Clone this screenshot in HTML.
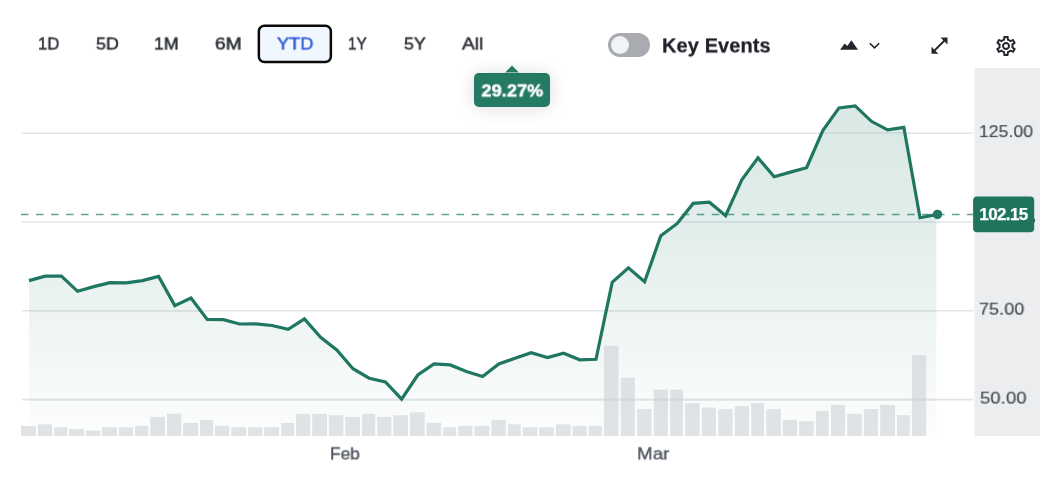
<!DOCTYPE html>
<html><head><meta charset="utf-8"><title>Chart</title>
<style>
html,body{margin:0;padding:0;background:#fff;}
body{width:1054px;height:490px;position:relative;overflow:hidden;font-family:"Liberation Sans",sans-serif;color:#23262d;}
svg{position:absolute;left:0;top:0;}
.rb{position:absolute;top:25.4px;transform-origin:0 50%;height:38px;line-height:38px;font-size:17px;white-space:nowrap;color:#2a2d35;-webkit-text-stroke:0.5px #2a2d35;}
.tog{position:absolute;left:608px;top:33px;width:42px;height:24px;border-radius:12px;background:#a9abb1;}
.tog i{position:absolute;left:3px;top:3px;width:18px;height:18px;border-radius:50%;background:#f0f4f8;}
.ke{position:absolute;left:662px;top:33px;transform:translateY(0.4px) perspective(1000px) rotateX(0.02deg);-webkit-text-stroke:.25px #1f2128;letter-spacing:.1px;line-height:24px;font-size:20px;font-weight:bold;color:#1f2128;white-space:nowrap;}
.tip{position:absolute;left:474px;top:73px;width:76px;height:34px;border-radius:5px;background:#257a64;box-shadow:0 1px 18px rgba(0,0,0,.14);border-top:1px solid #1f7560;box-sizing:border-box;color:#fff;font-weight:bold;font-size:17px;line-height:34.2px;text-align:center;letter-spacing:.2px;-webkit-text-stroke:.5px #fff;}
.yl{position:absolute;left:978.3px;font-size:17px;line-height:20px;color:#454a54;white-space:nowrap;letter-spacing:.1px;transform-origin:0 50%;-webkit-text-stroke:.2px #454a54;}
.xl{position:absolute;top:444px;transform:translateY(0.4px) perspective(1000px) rotateX(0.02deg);font-size:17px;line-height:20px;color:#4a4f5a;white-space:nowrap;-webkit-text-stroke:0.3px #4a4f5a;}
.cur{position:absolute;left:973px;top:196.3px;width:61px;height:36px;color:#fff;font-weight:bold;font-size:17px;line-height:38.2px;text-align:center;letter-spacing:-.6px;-webkit-text-stroke:.25px #fff;}
</style></head><body>
<svg width="1054" height="490" viewBox="0 0 1054 490">
<defs><linearGradient id="g" x1="0" y1="105" x2="0" y2="436" gradientUnits="userSpaceOnUse">
<stop offset="0" stop-color="#1f7a62" stop-opacity=".165"/><stop offset=".37" stop-color="#1f7a62" stop-opacity=".13"/><stop offset="1" stop-color="#1f7a62" stop-opacity=".01"/></linearGradient></defs>
<rect x="974.4" y="68" width="65.5" height="368.1" fill="#ebedef"/>
<g stroke="#e1e3e9" stroke-width="1.6"><line x1="22.2" x2="972.9" y1="133.2" y2="133.2"/><line x1="22.2" x2="972.9" y1="222.0" y2="222.0"/><line x1="22.2" x2="972.9" y1="310.8" y2="310.8"/><line x1="22.2" x2="972.9" y1="399.6" y2="399.6"/></g>
<path d="M29.0,436.1 L29.0,280.6 L45.2,276.2 L61.4,276.2 L77.6,291.3 L93.8,286.6 L110.0,282.6 L126.2,282.8 L142.4,280.6 L158.6,276.4 L174.8,305.6 L191.0,298.1 L207.2,319.4 L223.4,319.7 L239.6,324.0 L255.8,323.8 L272.0,325.5 L288.2,329.3 L304.4,318.9 L320.6,337.3 L336.8,349.9 L353.0,368.7 L369.2,378.2 L385.4,382.0 L401.6,399.1 L417.8,375.0 L434.0,363.9 L450.2,364.9 L466.4,371.5 L482.6,376.5 L498.8,364.0 L515.0,358.3 L531.2,352.8 L547.4,357.6 L563.6,353.3 L579.8,359.8 L596.0,359.3 L612.2,282.3 L628.4,267.9 L644.6,281.8 L660.8,235.8 L677.0,223.7 L693.2,203.4 L709.4,202.2 L725.6,215.7 L741.8,179.8 L758.0,157.9 L774.2,176.8 L790.4,172.1 L806.6,167.7 L822.8,130.6 L839.0,107.9 L855.2,105.9 L871.4,121.3 L887.6,129.8 L903.8,127.3 L920.0,217.7 L936.3,214.6 L936.3,436.1 Z" fill="url(#g)"/>
<clipPath id="c"><path d="M29.0,436.1 L29.0,280.6 L45.2,276.2 L61.4,276.2 L77.6,291.3 L93.8,286.6 L110.0,282.6 L126.2,282.8 L142.4,280.6 L158.6,276.4 L174.8,305.6 L191.0,298.1 L207.2,319.4 L223.4,319.7 L239.6,324.0 L255.8,323.8 L272.0,325.5 L288.2,329.3 L304.4,318.9 L320.6,337.3 L336.8,349.9 L353.0,368.7 L369.2,378.2 L385.4,382.0 L401.6,399.1 L417.8,375.0 L434.0,363.9 L450.2,364.9 L466.4,371.5 L482.6,376.5 L498.8,364.0 L515.0,358.3 L531.2,352.8 L547.4,357.6 L563.6,353.3 L579.8,359.8 L596.0,359.3 L612.2,282.3 L628.4,267.9 L644.6,281.8 L660.8,235.8 L677.0,223.7 L693.2,203.4 L709.4,202.2 L725.6,215.7 L741.8,179.8 L758.0,157.9 L774.2,176.8 L790.4,172.1 L806.6,167.7 L822.8,130.6 L839.0,107.9 L855.2,105.9 L871.4,121.3 L887.6,129.8 L903.8,127.3 L920.0,217.7 L936.3,214.6 L936.3,436.1 Z"/></clipPath>
<g clip-path="url(#c)" stroke-width="1.6"><line x1="22.2" x2="972.9" y1="133.2" y2="133.2" stroke="#ccdcd9"/><line x1="22.2" x2="972.9" y1="222.0" y2="222.0" stroke="#cfdedc"/><line x1="22.2" x2="972.9" y1="310.8" y2="310.8" stroke="#d5e0df"/><line x1="22.2" x2="972.9" y1="399.6" y2="399.6" stroke="#dee3e5"/></g>
<g fill="#c3c9d0" fill-opacity=".5"><rect x="21.0" y="425.9" width="14.9" height="10.2"/><rect x="37.9" y="424.3" width="14.3" height="11.8"/><rect x="54.2" y="427.3" width="13.2" height="8.8"/><rect x="69.2" y="429.1" width="14.9" height="7.0"/><rect x="85.9" y="430.5" width="14.4" height="5.6"/><rect x="102.0" y="427.3" width="15.0" height="8.8"/><rect x="119.0" y="427.3" width="14.1" height="8.8"/><rect x="135.1" y="425.9" width="13.2" height="10.2"/><rect x="150.3" y="416.9" width="14.7" height="19.2"/><rect x="167.0" y="413.7" width="14.3" height="22.4"/><rect x="183.1" y="422.9" width="15.0" height="13.2"/><rect x="200.1" y="419.9" width="13.1" height="16.2"/><rect x="215.0" y="425.9" width="14.3" height="10.2"/><rect x="231.3" y="427.3" width="14.8" height="8.8"/><rect x="248.1" y="427.3" width="14.3" height="8.8"/><rect x="264.2" y="427.3" width="14.9" height="8.8"/><rect x="281.1" y="422.9" width="13.0" height="13.2"/><rect x="296.1" y="413.9" width="14.1" height="22.2"/><rect x="312.2" y="413.9" width="14.8" height="22.2"/><rect x="328.9" y="415.3" width="14.4" height="20.8"/><rect x="345.3" y="416.9" width="14.7" height="19.2"/><rect x="362.0" y="413.9" width="13.2" height="22.2"/><rect x="377.2" y="416.9" width="14.1" height="19.2"/><rect x="393.3" y="415.3" width="14.7" height="20.8"/><rect x="410.0" y="412.3" width="14.7" height="23.8"/><rect x="426.5" y="422.9" width="14.7" height="13.2"/><rect x="443.2" y="427.3" width="13.0" height="8.8"/><rect x="458.2" y="425.9" width="14.3" height="10.2"/><rect x="474.5" y="425.9" width="14.8" height="10.2"/><rect x="491.3" y="419.9" width="14.5" height="16.2"/><rect x="507.8" y="424.3" width="12.9" height="11.8"/><rect x="522.7" y="427.3" width="14.6" height="8.8"/><rect x="539.3" y="427.3" width="14.5" height="8.8"/><rect x="555.8" y="424.3" width="14.8" height="11.8"/><rect x="572.5" y="425.9" width="14.2" height="10.2"/><rect x="588.7" y="425.9" width="13.1" height="10.2"/><rect x="603.9" y="345.8" width="14.6" height="90.3"/><rect x="620.8" y="377.7" width="14.1" height="58.4"/><rect x="637.2" y="409.1" width="14.3" height="27.0"/><rect x="653.8" y="389.6" width="14.1" height="46.5"/><rect x="670.2" y="389.6" width="12.8" height="46.5"/><rect x="685.2" y="403.1" width="14.4" height="33.0"/><rect x="701.9" y="407.6" width="14.1" height="28.5"/><rect x="718.3" y="409.1" width="14.3" height="27.0"/><rect x="734.9" y="406.2" width="14.1" height="29.9"/><rect x="751.3" y="403.1" width="12.8" height="33.0"/><rect x="766.3" y="409.1" width="14.6" height="27.0"/><rect x="782.7" y="419.9" width="14.4" height="16.2"/><rect x="799.1" y="421.2" width="14.6" height="14.9"/><rect x="815.9" y="410.9" width="12.8" height="25.2"/><rect x="831.0" y="404.9" width="14.1" height="31.2"/><rect x="847.2" y="413.8" width="14.6" height="22.3"/><rect x="863.8" y="409.1" width="14.1" height="27.0"/><rect x="880.2" y="404.9" width="14.8" height="31.2"/><rect x="897.0" y="415.2" width="12.8" height="20.9"/><rect x="911.9" y="355.2" width="14.3" height="80.9"/></g>
<line x1="21" x2="973" y1="214.5" y2="214.5" stroke="#1f7a62" stroke-opacity=".7" stroke-width="1.6" stroke-dasharray="7.5 7.517"/>
<polyline points="29.0,280.6 45.2,276.2 61.4,276.2 77.6,291.3 93.8,286.6 110.0,282.6 126.2,282.8 142.4,280.6 158.6,276.4 174.8,305.6 191.0,298.1 207.2,319.4 223.4,319.7 239.6,324.0 255.8,323.8 272.0,325.5 288.2,329.3 304.4,318.9 320.6,337.3 336.8,349.9 353.0,368.7 369.2,378.2 385.4,382.0 401.6,399.1 417.8,375.0 434.0,363.9 450.2,364.9 466.4,371.5 482.6,376.5 498.8,364.0 515.0,358.3 531.2,352.8 547.4,357.6 563.6,353.3 579.8,359.8 596.0,359.3 612.2,282.3 628.4,267.9 644.6,281.8 660.8,235.8 677.0,223.7 693.2,203.4 709.4,202.2 725.6,215.7 741.8,179.8 758.0,157.9 774.2,176.8 790.4,172.1 806.6,167.7 822.8,130.6 839.0,107.9 855.2,105.9 871.4,121.3 887.6,129.8 903.8,127.3 920.0,217.7 936.3,214.6" fill="none" stroke="#1f7661" stroke-width="3.2" stroke-linejoin="miter"/>
<circle cx="937.5" cy="214.45" r="4.75" fill="#237964"/>
<rect x="258.85" y="25.85" width="72" height="36.1" rx="5.5" fill="#f0f7fe" stroke="#0a0a0a" stroke-width="2.5"/>
<ellipse cx="1029.9" cy="220.6" rx="5.1" ry="4.2" fill="#2a2d35"/>
<rect x="973.1" y="196.45" width="61.1" height="35.8" rx="4" fill="#1f745e"/>
<!-- icons -->
<path d="M840.1 49.8 L844.7 43.6 L847.3 46 L851.4 40.3 L858 49.8 Z" fill="#23262d"/>
<path d="M869.8 43.2 L874.5 47.9 L879.2 43.2" fill="none" stroke="#23262d" stroke-width="1.6"/>
<g fill="#23262d"><path d="M940.5 37.4H947.5V44.5Z"/><path d="M931.5 46.7V53.7H938.4Z"/></g>
<line x1="944.5" y1="40.5" x2="934.5" y2="50.5" stroke="#23262d" stroke-width="1.8"/>
<g transform="translate(994 33.9)"><path d="M19.43 12.98c.04-.32.07-.64.07-.98 0-.34-.03-.66-.07-.98l2.11-1.65c.19-.15.24-.42.12-.64l-2-3.46c-.09-.16-.26-.25-.44-.25-.06 0-.12.01-.17.03l-2.49 1c-.52-.4-1.08-.73-1.69-.98l-.38-2.65C14.46 2.18 14.25 2 14 2h-4c-.25 0-.46.18-.49.42l-.38 2.65c-.61.25-1.17.59-1.69.98l-2.49-1c-.06-.02-.12-.03-.18-.03-.17 0-.34.09-.43.25l-2 3.46c-.13.22-.07.49.12.64l2.11 1.65c-.04.32-.07.65-.07.98 0 .33.03.66.07.98l-2.11 1.65c-.19.15-.24.42-.12.64l2 3.46c.09.16.26.25.44.25.06 0 .12-.01.17-.03l2.49-1c.52.4 1.08.73 1.69.98l.38 2.65c.03.24.24.42.49.42h4c.25 0 .46-.18.49-.42l.38-2.65c.61-.25 1.17-.59 1.69-.98l2.49 1c.06.02.12.03.18.03.17 0 .34-.09.43-.25l2-3.46c.12-.22.07-.49-.12-.64l-2.11-1.65zm-1.98-1.71c.04.31.05.52.05.73 0 .21-.02.43-.05.73l-.14 1.13.89.7 1.08.84-.7 1.21-1.27-.51-1.04-.42-.9.68c-.43.32-.84.56-1.25.73l-1.06.43-.16 1.13-.2 1.35h-1.4l-.19-1.35-.16-1.13-1.06-.43c-.43-.18-.83-.41-1.23-.71l-.91-.7-1.06.43-1.27.51-.7-1.21 1.08-.84.89-.7-.14-1.13c-.03-.31-.05-.54-.05-.74s.02-.43.05-.73l.14-1.13-.89-.7-1.08-.84.7-1.21 1.27.51 1.04.42.9-.68c.43-.32.84-.56 1.25-.73l1.060-.43.16-1.13.2-1.35h1.39l.19 1.35.16 1.13 1.06.43c.43.18.83.41 1.23.71l.91.7 1.06-.43 1.27-.51.7 1.21-1.07.85-.89.7.14 1.13zM12 8c-2.21 0-4 1.79-4 4s1.79 4 4 4 4-1.79 4-4-1.79-4-4-4zm0 6c-1.100 0-2-.9-2-2s.9-2 2-2 2 .9 2 2-.9 2-2 2z" fill="#23262d"/></g>
</svg>
<div class="rb" style="left:38.3px;transform:translateY(0.5px) perspective(1000px) rotateX(0.02deg) scaleX(0.98)">1D</div>
<div class="rb" style="left:95.5px;transform:translateY(0.5px) perspective(1000px) rotateX(0.02deg) scaleX(1.05)">5D</div>
<div class="rb" style="left:154px;transform:translateY(0.5px) perspective(1000px) rotateX(0.02deg) scaleX(1.04)">1M</div>
<div class="rb" style="left:214.8px;transform:translateY(0.5px) perspective(1000px) rotateX(0.02deg) scaleX(1.125)">6M</div>
<div class="rb" style="left:277.2px;color:#2f5dd8;-webkit-text-stroke:0.5px #2f5dd8;transform:translateY(0.5px) perspective(1000px) rotateX(0.02deg) scaleX(1.07)">YTD</div>
<div class="rb" style="left:348.3px;transform:translateY(0.5px) perspective(1000px) rotateX(0.02deg) scaleX(0.9)">1Y</div>
<div class="rb" style="left:403.5px;transform:translateY(0.5px) perspective(1000px) rotateX(0.02deg) scaleX(1.045)">5Y</div>
<div class="rb" style="left:461.8px;transform:translateY(0.5px) perspective(1000px) rotateX(0.02deg) scaleX(1.135)">All</div>
<div class="tog"><i></i></div>
<div class="ke">Key Events</div>
<div class="tip"><svg style="position:absolute;left:30px;top:-10px" width="18" height="10"><polygon points="1.1,8.5 8,1.6 14.9,8.5" fill="#257a64"/><rect x="1.1" y="8.4" width="13.8" height=".6" fill="#9cc7bb"/></svg><span style="display:inline-block;transform:translateY(0.45px) perspective(1000px) rotateX(0.02deg) scaleX(1.05)">29.27%</span></div>
<div class="yl" style="top:122px;left:978.8px;transform:translateY(0.15px) perspective(1000px) rotateX(0.02deg) scaleX(1.03)">125.00</div>
<div class="yl" style="top:299px;left:979.4px;transform:translateY(0.7px) perspective(1000px) rotateX(0.02deg) scaleX(1.054)">75.00</div>
<div class="yl" style="top:388px;left:980.2px;transform:translateY(0.65px) perspective(1000px) rotateX(0.02deg) scaleX(1.084)">50.00</div>
<div class="cur">102.15</div>
<div class="xl" style="left:330px;transform:translateY(0.4px) perspective(1000px) rotateX(0.02deg) scaleX(1.02);transform-origin:0 50%">Feb</div>
<div class="xl" style="left:637px;transform:translateY(0.4px) perspective(1000px) rotateX(0.02deg) scaleX(1.11);transform-origin:0 50%">Mar</div>
</body></html>
